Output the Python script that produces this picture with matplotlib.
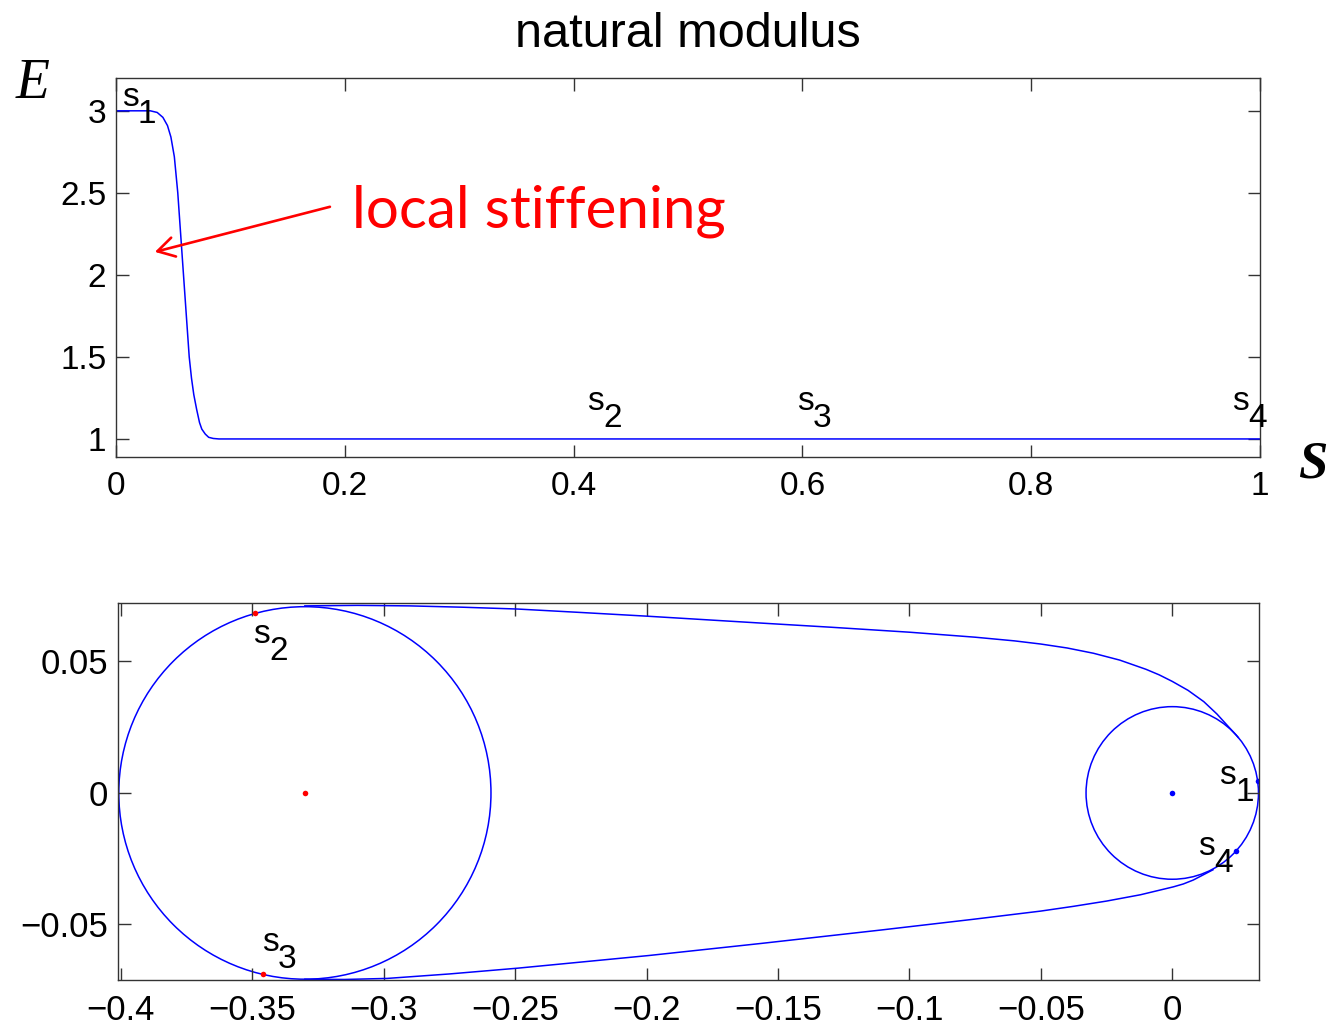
import matplotlib
matplotlib.use("Agg")
import matplotlib.pyplot as plt
from matplotlib.patches import Circle

# ---- modulus profile E(s) ----
s_vals = [0, 0.030, 0.036, 0.041, 0.045, 0.048, 0.051, 0.054, 0.0565, 0.059,
          0.0615, 0.064, 0.066, 0.068, 0.0705, 0.073, 0.075, 0.078, 0.081,
          0.085, 0.090, 1.0]
E_vals = [3, 3, 2.99, 2.96, 2.91, 2.84, 2.72, 2.5, 2.25, 2.0,
          1.75, 1.5, 1.37, 1.27, 1.18, 1.10, 1.06, 1.03, 1.01,
          1.003, 1.0, 1.0]

top_xticks = [0, 0.2, 0.4, 0.6, 0.8, 1.0]
top_xticklabels = ["0", "0.2", "0.4", "0.6", "0.8", "1"]
top_yticks = [1, 1.5, 2, 2.5, 3]
top_yticklabels = ["1", "1.5", "2", "2.5", "3"]

# arc-length markers on the E(s) plot
top_label_names = ["1", "2", "3", "4"]
top_label_s = [0.005, 0.412, 0.595, 0.976]
top_label_E = [3.08, 1.226, 1.226, 1.226]

# ---- rod configuration in the plane ----
big_center = (-0.330, 0.0)
big_radius = 0.0708
small_center = (0.0, 0.0)
small_radius = 0.0328

# free span between the two cylinders, upper side
upper_x = [-0.330, -0.310, -0.290, -0.270, -0.249, -0.225, -0.200, -0.157,
           -0.130, -0.100, -0.075, -0.060, -0.050, -0.040, -0.030, -0.020,
           -0.010, -0.005, 0.000, 0.006, 0.012, 0.017, 0.0251]
upper_y = [0.0711, 0.0713, 0.0711, 0.0706, 0.0699, 0.0686, 0.0672, 0.0646,
           0.0630, 0.0611, 0.0592, 0.0578, 0.0566, 0.0551, 0.0531, 0.0505,
           0.0470, 0.0449, 0.0424, 0.0390, 0.0347, 0.0300, 0.0211]

# free span between the two cylinders, lower side
lower_x = [-0.330, -0.315, -0.2987, -0.275, -0.249, -0.1992, -0.1564, -0.1108,
           -0.0755, -0.050, -0.0376, -0.025, -0.0121, 0.0004, 0.0042, 0.0080,
           0.0155]
lower_y = [-0.0708, -0.0709, -0.0705, -0.0688, -0.0666, -0.0618, -0.0572,
           -0.0521, -0.0480, -0.0449, -0.0431, -0.0411, -0.0387, -0.0357,
           -0.0346, -0.0331, -0.0292]

red_pts_x = [-0.330, -0.3488, -0.3461]
red_pts_y = [0.0, 0.0684, -0.0688]
blue_pts_x = [0.0, 0.0326, 0.0243]
blue_pts_y = [0.0, 0.0046, -0.0221]

bot_label_names = ["2", "3", "1", "4"]
bot_label_x = [-0.3497, -0.3463, 0.0179, 0.0099]
bot_label_y = [0.0601, -0.0567, 0.0065, -0.0202]

bot_xticks = [-0.4, -0.35, -0.3, -0.25, -0.2, -0.15, -0.1, -0.05, 0]
bot_xticklabels = ["\u22120.4", "\u22120.35", "\u22120.3", "\u22120.25", "\u22120.2",
                   "\u22120.15", "\u22120.1", "\u22120.05", "0"]
bot_yticks = [-0.05, 0, 0.05]
bot_yticklabels = ["\u22120.05", "0", "0.05"]

plt.rcParams["font.family"] = ["Liberation Sans", "DejaVu Sans"]

W, H = 1328, 1029
fig = plt.figure(figsize=(W / 100, H / 100), dpi=100)
fig.patch.set_facecolor("white")

ax1 = fig.add_axes([116 / W, 1 - 457 / H, (1260 - 116) / W, (457 - 78) / H])
ax2 = fig.add_axes([118 / W, 1 - 980 / H, (1259 - 118) / W, (980 - 603) / H])

frame_color = "0.2"
line_color = (0, 0, 1)
lw = 1.1


def style_axes(ax, labelsize):
    for sp in ax.spines.values():
        sp.set_color(frame_color)
        sp.set_linewidth(1.0)
    ax.tick_params(direction="in", length=9, width=1.0, color=frame_color,
                   top=True, right=True, labelsize=labelsize, labelcolor="black")
    ax.tick_params(axis="x", pad=10)
    ax.tick_params(axis="y", pad=7)


def s_label(ax, x, y, digit, fs=24):
    ax.annotate("s", xy=(x, y), xycoords="data", ha="left", va="center",
                fontsize=fs, color="black")
    ax.annotate(digit, xy=(x, y), xycoords="data", xytext=(11.5, -12.2),
                textcoords="offset points", ha="left", va="center",
                fontsize=fs, color="black")


# ---- top panel ----
ax1.plot(s_vals, E_vals, color=line_color, lw=lw)
ax1.set_xlim(0, 1)
ax1.set_ylim(0.89, 3.2)
ax1.set_xticks(top_xticks)
ax1.set_xticklabels(top_xticklabels)
ax1.set_yticks(top_yticks)
ax1.set_yticklabels(top_yticklabels)
style_axes(ax1, 24)
ax1.set_title("natural modulus", fontsize=35, pad=22)
for name, sx, ey in zip(top_label_names, top_label_s, top_label_E):
    s_label(ax1, sx, ey, name)

ax1.annotate("", xy=(0.034, 2.14), xytext=(0.187, 2.415),
             arrowprops=dict(arrowstyle="->,head_length=0.6,head_width=0.35",
                             color="red", lw=1.9, mutation_scale=20,
                             shrinkA=0, shrinkB=0))
ax1.text(0.206, 2.287, "local stiffening", color="red", fontsize=42,
         family="Lato", ha="left", va="baseline")

# ---- bottom panel ----
ax2.add_patch(Circle(big_center, big_radius, fill=False, ec=line_color, lw=lw))
ax2.add_patch(Circle(small_center, small_radius, fill=False, ec=line_color, lw=lw))
ax2.plot(upper_x, upper_y, color=line_color, lw=lw)
ax2.plot(lower_x, lower_y, color=line_color, lw=lw)
ax2.plot(red_pts_x, red_pts_y, "o", color="red", ms=4, mec="none")
ax2.plot(blue_pts_x, blue_pts_y, "o", color="blue", ms=4, mec="none")
ax2.set_xlim(-0.4011, 0.0330)
ax2.set_ylim(-0.0711, 0.0722)
ax2.set_xticks(bot_xticks)
ax2.set_xticklabels(bot_xticklabels)
ax2.set_yticks(bot_yticks)
ax2.set_yticklabels(bot_yticklabels)
style_axes(ax2, 25)
for name, bx, by in zip(bot_label_names, bot_label_x, bot_label_y):
    s_label(ax2, bx, by, name)

# axis symbols
fig.text(33 / W, 1 - 84 / H, "E", fontsize=40, family="Liberation Serif",
         style="italic", ha="center", va="center")
fig.text(1313 / W, 1 - 464 / H, "S", fontsize=38, family="Liberation Serif",
         style="italic", weight="bold", ha="center", va="center")

fig.savefig("out.png", dpi=100)
